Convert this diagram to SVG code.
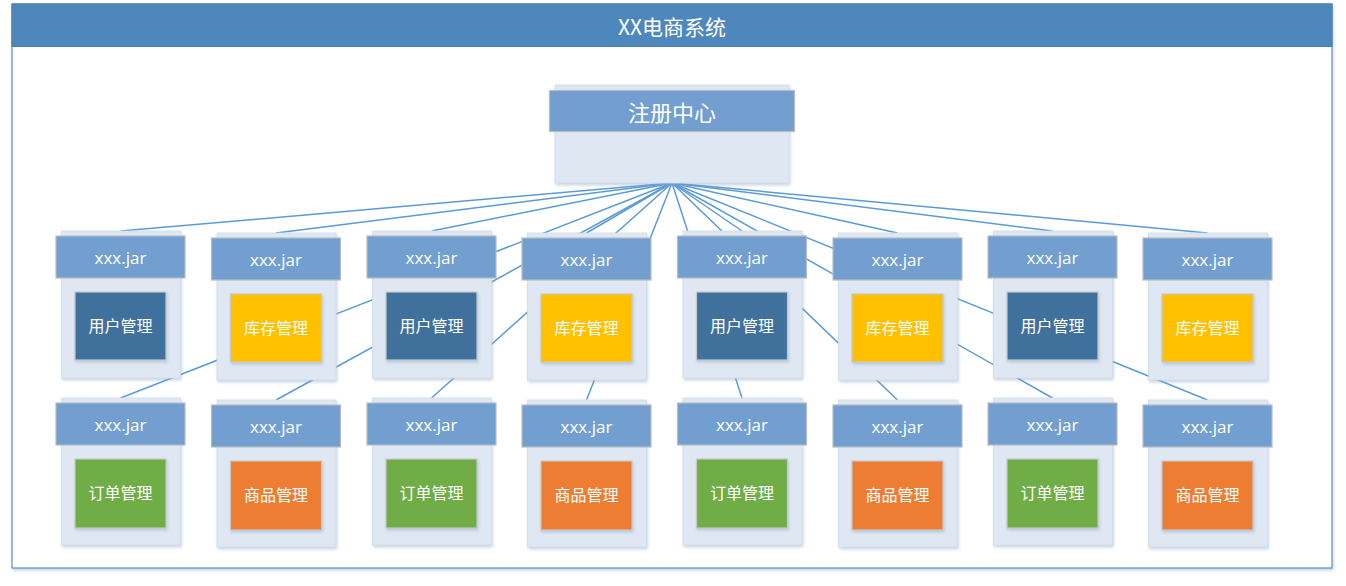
<svg xmlns="http://www.w3.org/2000/svg" width="1346" height="586" viewBox="0 0 1346 586">
<style>
.back{fill:#dfe8f2;stroke:#d0dbe8;stroke-width:0.8;filter:url(#sh)}
.hdr{fill:#729fcf;stroke:#b8bcc2;stroke-width:1.2}
.jar{font-family:"Open Sans","Noto Sans",sans-serif;font-size:17px;fill:#ffffff;text-anchor:middle;dominant-baseline:central}
.lbl{font-family:"Noto Sans CJK SC",sans-serif;font-size:16px;fill:#ffffff;text-anchor:middle;dominant-baseline:central}
.inner{stroke:#c8c8c8;stroke-width:1.2;filter:url(#sh)}
.user{fill:#41709c}
.stock{fill:#ffc000}
.order{fill:#70ad47}
.goods{fill:#ed7d31}
.conn line{stroke:#5b9bd5;stroke-width:1.5}
</style>
<defs>
<filter id="sh" x="-10%" y="-10%" width="130%" height="130%">
<feDropShadow dx="1" dy="2" stdDeviation="1.5" flood-color="#8aa5c4" flood-opacity="0.45"/>
</filter>
<g id="nodeBase">
<rect class="back" x="5.5" y="-5" width="119" height="147"/>
<rect class="hdr" x="0" y="0" width="129" height="42"/>
<text class="jar" x="64.5" y="21">xxx.jar</text>
</g>
</defs>
<rect width="1346" height="586" fill="#ffffff"/>
<g id="frame">
<rect x="12" y="4" width="1320" height="564" fill="#ffffff" stroke="#5b8fc6" stroke-width="1.2" filter="url(#sh)"/>
<rect x="12" y="4" width="1320" height="42.5" fill="#4e87bb" stroke="#4a7fb0" stroke-width="1"/>
<text x="672" y="25.5" font-family="Noto Sans CJK SC,sans-serif" font-size="21" fill="#ffffff" text-anchor="middle" dominant-baseline="central">XX电商系统</text>
</g>
<g class="conn" id="connectors">
<line x1="672" y1="183" x2="120.5" y2="231"/>
<line x1="672" y1="183" x2="276" y2="233"/>
<line x1="672" y1="183" x2="431.5" y2="231"/>
<line x1="672" y1="183" x2="586.5" y2="233"/>
<line x1="672" y1="183" x2="742" y2="231"/>
<line x1="672" y1="183" x2="897.5" y2="233"/>
<line x1="672" y1="183" x2="1052.5" y2="231"/>
<line x1="672" y1="183" x2="1207.5" y2="233"/>
<line x1="672" y1="183" x2="120.5" y2="398"/>
<line x1="672" y1="183" x2="276" y2="400"/>
<line x1="672" y1="183" x2="431.5" y2="398"/>
<line x1="672" y1="183" x2="586.5" y2="400"/>
<line x1="672" y1="183" x2="742" y2="398"/>
<line x1="672" y1="183" x2="897.5" y2="400"/>
<line x1="672" y1="183" x2="1052.5" y2="398"/>
<line x1="672" y1="183" x2="1207.5" y2="400"/>
</g>
<g id="registry">
<rect class="back" x="555" y="85" width="234" height="98"/>
<rect class="hdr" x="549.5" y="90.5" width="245" height="41"/>
<text x="672" y="110.5" font-family="Noto Sans CJK SC,sans-serif" font-size="22" fill="#ffffff" text-anchor="middle" dominant-baseline="central">注册中心</text>
</g>
<g id="u1" transform="translate(56,236)"><use href="#nodeBase"/><rect class="inner user" x="19" y="56" width="91" height="68"/><text class="lbl" x="64.5" y="89">用户管理</text></g>
<g id="u2" transform="translate(211.5,238)"><use href="#nodeBase"/><rect class="inner stock" x="19" y="56" width="91" height="68"/><text class="lbl" x="64.5" y="89">库存管理</text></g>
<g id="u3" transform="translate(367,236)"><use href="#nodeBase"/><rect class="inner user" x="19" y="56" width="91" height="68"/><text class="lbl" x="64.5" y="89">用户管理</text></g>
<g id="u4" transform="translate(522,238)"><use href="#nodeBase"/><rect class="inner stock" x="19" y="56" width="91" height="68"/><text class="lbl" x="64.5" y="89">库存管理</text></g>
<g id="u5" transform="translate(677.5,236)"><use href="#nodeBase"/><rect class="inner user" x="19" y="56" width="91" height="68"/><text class="lbl" x="64.5" y="89">用户管理</text></g>
<g id="u6" transform="translate(833,238)"><use href="#nodeBase"/><rect class="inner stock" x="19" y="56" width="91" height="68"/><text class="lbl" x="64.5" y="89">库存管理</text></g>
<g id="u7" transform="translate(988,236)"><use href="#nodeBase"/><rect class="inner user" x="19" y="56" width="91" height="68"/><text class="lbl" x="64.5" y="89">用户管理</text></g>
<g id="u8" transform="translate(1143,238)"><use href="#nodeBase"/><rect class="inner stock" x="19" y="56" width="91" height="68"/><text class="lbl" x="64.5" y="89">库存管理</text></g>
<g id="l1" transform="translate(56,403)"><use href="#nodeBase"/><rect class="inner order" x="19" y="56" width="91" height="69"/><text class="lbl" x="64.5" y="89">订单管理</text></g>
<g id="l2" transform="translate(211.5,405)"><use href="#nodeBase"/><rect class="inner goods" x="19" y="56" width="91" height="69"/><text class="lbl" x="64.5" y="89">商品管理</text></g>
<g id="l3" transform="translate(367,403)"><use href="#nodeBase"/><rect class="inner order" x="19" y="56" width="91" height="69"/><text class="lbl" x="64.5" y="89">订单管理</text></g>
<g id="l4" transform="translate(522,405)"><use href="#nodeBase"/><rect class="inner goods" x="19" y="56" width="91" height="69"/><text class="lbl" x="64.5" y="89">商品管理</text></g>
<g id="l5" transform="translate(677.5,403)"><use href="#nodeBase"/><rect class="inner order" x="19" y="56" width="91" height="69"/><text class="lbl" x="64.5" y="89">订单管理</text></g>
<g id="l6" transform="translate(833,405)"><use href="#nodeBase"/><rect class="inner goods" x="19" y="56" width="91" height="69"/><text class="lbl" x="64.5" y="89">商品管理</text></g>
<g id="l7" transform="translate(988,403)"><use href="#nodeBase"/><rect class="inner order" x="19" y="56" width="91" height="69"/><text class="lbl" x="64.5" y="89">订单管理</text></g>
<g id="l8" transform="translate(1143,405)"><use href="#nodeBase"/><rect class="inner goods" x="19" y="56" width="91" height="69"/><text class="lbl" x="64.5" y="89">商品管理</text></g>
</svg>
